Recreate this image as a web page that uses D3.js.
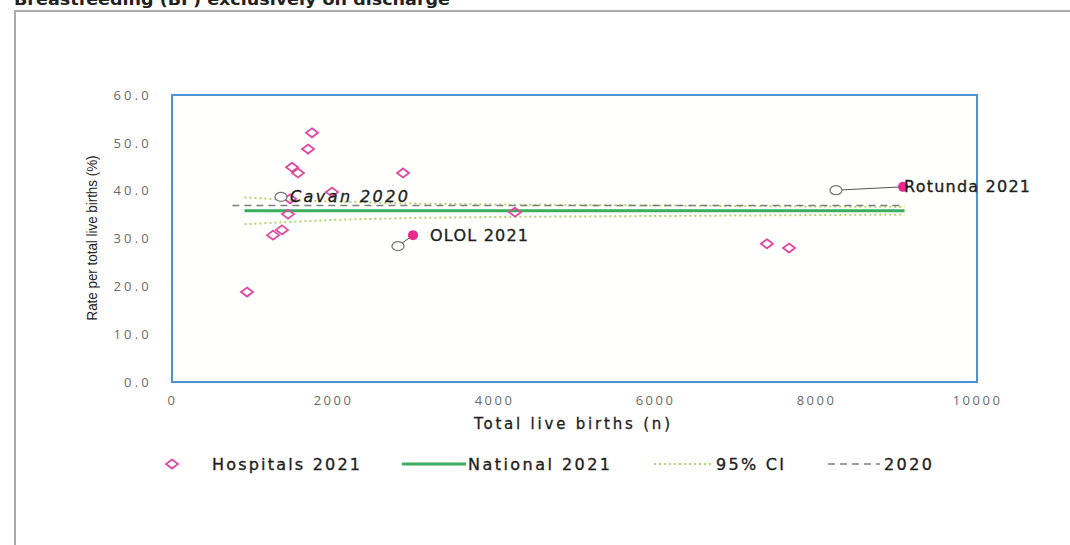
<!DOCTYPE html>
<html>
<head>
<meta charset="utf-8">
<script src="https://cdn.jsdelivr.net/npm/d3@7"></script>
<style>
  body { margin: 0; background: #fff; }
</style>
</head>
<body>
<script>
// hospitals 2021 (births, rate %)
var hospBirths = [932, 1739, 1690, 1491, 1565, 2870, 1988, 1466, 1441, 1366, 1255, 4261, 7391, 7665];
var hospRate   = [18.8, 52.1, 48.7, 44.9, 43.7, 43.7, 39.7, 38.3, 35.1, 31.8, 30.7, 35.5, 28.9, 28.0];

// highlighted hospitals
var hlNames   = ["Cavan", "OLOL", "Rotunda"];
var births2020 = [1354, 2807, 8248];
var rate2020   = [38.7, 28.4, 40.1];
var births2021 = [null, 2994, 9081];
var rate2021   = [null, 30.7, 40.8];

// national lines
var national2021 = 35.8;
var national2020 = 36.9;
var lineRange = [900, 9100];
var line2020Range = [750, 9100];

// 95% CI funnel
var ciBirths = [900, 1500, 2000, 3000, 4000, 5000, 6000, 7000, 8000, 9100];
var ciUpper  = [38.6, 38.0, 37.7, 37.3, 37.1, 37.0, 36.9, 36.8, 36.7, 36.6];
var ciLower  = [33.0, 33.5, 33.9, 34.3, 34.5, 34.6, 34.7, 34.8, 34.9, 35.0];

var xTicks = [0, 2000, 4000, 6000, 8000, 10000];
var yTicks = [0, 10, 20, 30, 40, 50, 60];

var W = 1070, H = 545;
var svg = d3.select("body").append("svg")
  .attr("width", W)
  .attr("height", H)
  .attr("font-family", "'Open Sans', sans-serif");

var pink = "#e2479f", green = "#3aae5c", ciCol = "#b2d46e", grey = "#777";
var wide = "'DejaVu Sans', sans-serif";

// title (mostly above the page top, as in the source)
svg.append("text")
  .attr("x", 14).attr("y", 5)
  .attr("font-size", 16).attr("font-weight", 700)
  .attr("font-family", wide)
  .attr("fill", "#222")
  .attr("textLength", 436).attr("lengthAdjust", "spacingAndGlyphs")
  .text("Breastfeeding (BF) exclusively on discharge");

// outer frame
svg.append("path")
  .attr("d", "M15," + H + "V11H" + W)
  .attr("fill", "none")
  .attr("stroke", "#aaa")
  .attr("stroke-width", 2);

var x = d3.scaleLinear().domain([0, 10000]).range([172, 977]);
var y = d3.scaleLinear().domain([0, 60]).range([382, 95]);

svg.append("rect")
  .attr("x", x(0)).attr("y", y(60))
  .attr("width", x(10000) - x(0))
  .attr("height", y(0) - y(60))
  .attr("fill", "#fffffe")
  .attr("stroke", "#4b93d2")
  .attr("stroke-width", 2);

var xAxis = svg.append("g")
  .attr("transform", "translate(0," + (y(0) + 6) + ")")
  .call(d3.axisBottom(x).tickValues(xTicks).tickSize(0).tickPadding(8).tickFormat(d3.format("d")));
xAxis.select(".domain").remove();
xAxis.selectAll("text").attr("font-size", 13).attr("fill", "#6a6a6a")
  .attr("font-family", "'Open Sans', sans-serif")
  .attr("letter-spacing", 2.5);

var yAxis = svg.append("g")
  .attr("transform", "translate(" + (x(0) - 20) + ",0)")
  .call(d3.axisLeft(y).tickValues(yTicks).tickSize(0).tickPadding(0).tickFormat(d3.format(".1f")));
yAxis.select(".domain").remove();
yAxis.selectAll("text").attr("font-size", 13).attr("fill", "#6a6a6a")
  .attr("font-family", "'Open Sans', sans-serif")
  .attr("letter-spacing", 3.2);

svg.append("text")
  .attr("x", 572).attr("y", 429)
  .attr("text-anchor", "middle")
  .attr("font-size", 15).attr("font-family", wide).attr("fill", "#1e1e1e")
  .attr("stroke", "#1e1e1e").attr("stroke-width", 0.3)
  .attr("textLength", 196).attr("lengthAdjust", "spacing")
  .text("Total live births (n)");

svg.append("text")
  .attr("transform", "translate(97,238) rotate(-90)")
  .attr("text-anchor", "middle")
  .attr("font-size", 14).attr("fill", "#222")
  .attr("font-family", "'Liberation Sans Narrow', 'Liberation Sans', sans-serif")
  .attr("textLength", 165).attr("lengthAdjust", "spacingAndGlyphs")
  .text("Rate per total live births (%)");

// 95% CI funnel lines
var ciLine = d3.line().x(function(d) { return x(d[0]); }).y(function(d) { return y(d[1]); });
[ciUpper, ciLower].forEach(function(arr) {
  svg.append("path")
    .attr("d", ciLine(ciBirths.map(function(b, i) { return [b, arr[i]]; })))
    .attr("fill", "none")
    .attr("stroke", ciCol)
    .attr("stroke-width", 2)
    .attr("stroke-dasharray", "2,3");
});

// 2020 national
svg.append("line")
  .attr("x1", x(line2020Range[0])).attr("x2", x(line2020Range[1]))
  .attr("y1", y(national2020)).attr("y2", y(national2020))
  .attr("stroke", "#7d7d7d").attr("stroke-width", 1.6)
  .attr("stroke-dasharray", "7,5");

// national 2021
svg.append("line")
  .attr("x1", x(lineRange[0])).attr("x2", x(lineRange[1]))
  .attr("y1", y(national2021)).attr("y2", y(national2021))
  .attr("stroke", green).attr("stroke-width", 3);

// hospitals 2021
var diamond = "M0,-4.5L6,0L0,4.5L-6,0Z";
svg.selectAll(".hosp")
  .data(hospBirths)
  .enter().append("path")
  .attr("class", "hosp")
  .attr("d", diamond)
  .attr("transform", function(d, i) { return "translate(" + x(d) + "," + y(hospRate[i]) + ")"; })
  .attr("fill", "none")
  .attr("stroke", pink)
  .attr("stroke-width", 1.8);

// connectors 2020 -> 2021
hlNames.forEach(function(n, i) {
  if (births2021[i] == null) return;
  svg.append("line")
    .attr("x1", x(births2020[i])).attr("y1", y(rate2020[i]))
    .attr("x2", x(births2021[i])).attr("y2", y(rate2021[i]))
    .attr("stroke", "#555").attr("stroke-width", 1);
});

// 2020 open circles
svg.selectAll(".p2020")
  .data(births2020)
  .enter().append("ellipse")
  .attr("class", "p2020")
  .attr("cx", function(d) { return x(d); })
  .attr("cy", function(d, i) { return y(rate2020[i]); })
  .attr("rx", 6).attr("ry", 4.5)
  .attr("fill", "#fff")
  .attr("stroke", grey)
  .attr("stroke-width", 1.3);

// 2021 highlighted
svg.selectAll(".p2021")
  .data(births2021.filter(function(d) { return d != null; }))
  .enter().append("circle")
  .attr("class", "p2021")
  .attr("cx", function(d) { return x(d); })
  .attr("cy", function(d) { return y(rate2021[births2021.indexOf(d)]); })
  .attr("r", 5)
  .attr("fill", "#e8288c");

// labels
function label(t, lx, ly, len, italic) {
  svg.append("text")
    .attr("x", lx).attr("y", ly)
    .attr("font-size", 16).attr("font-family", wide)
    .attr("font-style", italic ? "italic" : "normal")
    .attr("fill", "#1e1e1e")
    .attr("stroke", "#1e1e1e").attr("stroke-width", 0.35)
    .attr("textLength", len).attr("lengthAdjust", "spacing")
    .text(t);
}
label(hlNames[0] + " 2020", x(births2020[0]) + 9, y(rate2020[0]) + 5, 118, true);
label(hlNames[1] + " 2021", x(births2021[1]) + 17, y(rate2021[1]) + 6, 98, false);
label(hlNames[2] + " 2021", x(births2021[2]) + 1, y(rate2021[2]) + 5, 126, false);

// legend
var ly = 464;
var leg = svg.append("g").attr("font-size", 16).attr("font-family", wide)
  .attr("fill", "#1e1e1e").attr("stroke-width", 0.35);
function legText(t, lx, len) {
  leg.append("text").attr("x", lx).attr("y", ly + 6)
    .attr("stroke", "#1e1e1e")
    .attr("textLength", len).attr("lengthAdjust", "spacing")
    .text(t);
}
leg.append("path").attr("d", diamond)
  .attr("transform", "translate(172," + ly + ")")
  .attr("fill", "none").attr("stroke", pink).attr("stroke-width", 1.8);
legText("Hospitals 2021", 212, 148);
leg.append("line").attr("x1", 402).attr("x2", 466).attr("y1", ly).attr("y2", ly)
  .attr("stroke", green).attr("stroke-width", 3);
legText("National 2021", 468, 142);
leg.append("line").attr("x1", 654).attr("x2", 714).attr("y1", ly).attr("y2", ly)
  .attr("stroke", ciCol).attr("stroke-width", 2).attr("stroke-dasharray", "2,3");
legText("95% CI", 716, 68);
leg.append("line").attr("x1", 828).attr("x2", 880).attr("y1", ly).attr("y2", ly)
  .attr("stroke", "#7d7d7d").attr("stroke-width", 1.6).attr("stroke-dasharray", "7,5");
legText("2020", 884, 48);
</script>
</body>
</html>
